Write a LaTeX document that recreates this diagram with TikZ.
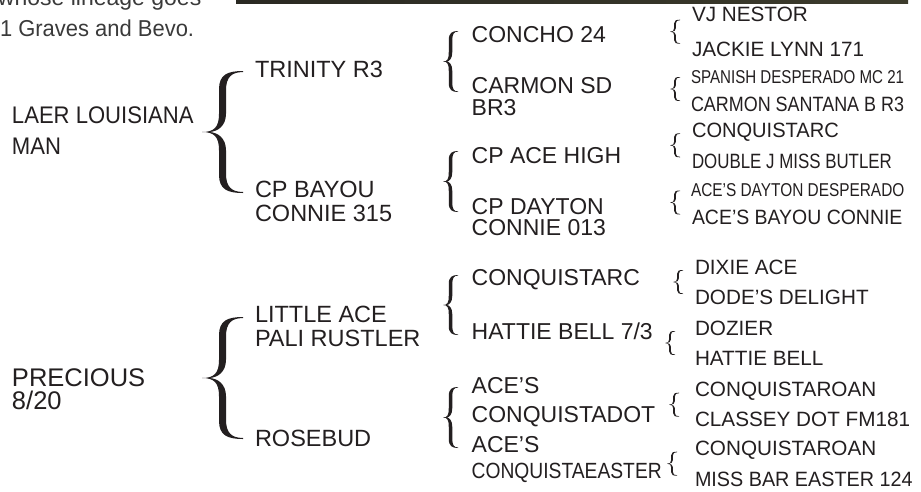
\documentclass[tikz,border=0pt]{standalone}
\usepackage{fontspec}
\setmainfont{Liberation Sans}
\usepackage{graphicx}
\definecolor{ink}{HTML}{231F20}
\definecolor{captxt}{HTML}{3A3A3A}
\definecolor{stripA}{HTML}{2A2922}
\definecolor{stripB}{HTML}{3C3B2C}

\newcommand\fTop{\fontsize{23}{27}\selectfont}
\newcommand\fOne{\fontsize{24}{28}\selectfont}
\newcommand\fPre{\fontsize{25.5}{30}\selectfont}
\newcommand\fTwo{\fontsize{23.5}{27}\selectfont}
\newcommand\fThr{\fontsize{23}{27}\selectfont}
\newcommand\fThs{\fontsize{22}{26}\selectfont}
\newcommand\fFou{\fontsize{20.7}{24}\selectfont}
\newcommand\fFos{\fontsize{18.6}{22}\selectfont}
\newcommand\cnd[2]{\scalebox{#1}[1]{#2}}

% calligraphic left brace: tip x, top y, bottom y, width, stem thickness
\newcommand\tbrace[5]{%
 \pgfmathsetmacro\brX{#1}\pgfmathsetmacro\brT{#2}\pgfmathsetmacro\brB{#3}%
 \pgfmathsetmacro\brW{#4}\pgfmathsetmacro\brK{#5}%
 \pgfmathsetmacro\brM{(\brT+\brB)/2}\pgfmathsetmacro\brH{(\brB-\brT)/2}%
 \pgfmathsetmacro\brL{\brX+0.5*\brW-\brK/2}\pgfmathsetmacro\brR{\brX+0.5*\brW+\brK/2}%
 \pgfmathsetmacro\brN{\brX+1.1*\brK}%
 \pgfmathsetmacro\brE{max(0.5,0.15*\brK)}%
 \fill[ink] ({\brX+\brW},{\brT})
   .. controls ({\brX+0.62*\brW},{\brT}) and ({\brL},{\brT+0.06*\brH}) .. ({\brL},{\brT+0.3*\brH})
   -- ({\brL},{\brM-0.3*\brH})
   .. controls ({\brL},{\brM-0.08*\brH}) and ({\brX+0.3*\brW},{\brM}) .. ({\brX},{\brM})
   .. controls ({\brX+0.3*\brW},{\brM}) and ({\brL},{\brM+0.08*\brH}) .. ({\brL},{\brM+0.3*\brH})
   -- ({\brL},{\brB-0.3*\brH})
   .. controls ({\brL},{\brB-0.06*\brH}) and ({\brX+0.62*\brW},{\brB}) .. ({\brX+\brW},{\brB})
   -- ({\brX+\brW},{\brB-\brE})
   .. controls ({\brX+0.72*\brW},{\brB-\brE}) and ({\brR},{\brB-0.1*\brH}) .. ({\brR},{\brB-0.32*\brH})
   -- ({\brR},{\brM+0.3*\brH})
   .. controls ({\brR},{\brM+0.1*\brH}) and ({(\brN+\brR)/2},{\brM+0.01*\brH}) .. ({\brN},{\brM})
   .. controls ({(\brN+\brR)/2},{\brM-0.01*\brH}) and ({\brR},{\brM-0.1*\brH}) .. ({\brR},{\brM-0.3*\brH})
   -- ({\brR},{\brT+0.32*\brH})
   .. controls ({\brR},{\brT+0.1*\brH}) and ({\brX+0.72*\brW},{\brT+\brE}) .. ({\brX+\brW},{\brT+\brE})
   -- cycle;}

\tikzset{lbl/.style={anchor=base west, inner sep=0pt, outer sep=0pt, text=ink}}

\begin{document}
\begin{tikzpicture}[x=1pt,y=-1pt]
\useasboundingbox (0,0) rectangle (921,491);
\clip (0,0) rectangle (921,491);
\fill[white] (0,0) rectangle (921,491);

% top photo strip
\shade[left color=stripA, right color=stripB] (236,0) rectangle (908,3.5);

% cut caption text
\node[lbl, text=captxt, font=\fTop] (capA) at (-2,5.5) {whose lineage goes};
\node[lbl, text=captxt, font=\fTop] (capB) at (0,36) {\cnd{0.955}{1 Graves and Bevo.}};

% column 1
\node[lbl,font=\fOne] (laerA) at (12,123.3) {\cnd{0.92}{LAER LOUISIANA}};
\node[lbl,font=\fOne] (laerB) at (12,154.3) {\cnd{0.92}{MAN}};
\node[lbl,font=\fPre] (precA) at (12,386) {PRECIOUS};
\node[lbl,font=\fPre] (precB) at (12,409) {8/20};

% column 2
\node[lbl,font=\fTwo] (trin) at (255,77.7) {TRINITY R3};
\node[lbl,font=\fTwo] (bayA) at (255,197.7) {CP BAYOU};
\node[lbl,font=\fTwo] (bayB) at (255,221.7) {CONNIE 315};
\node[lbl,font=\fTwo] (litA) at (255,322.3) {LITTLE ACE};
\node[lbl,font=\fTwo] (litB) at (255,346) {PALI RUSTLER};
\node[lbl,font=\fTwo] (rose) at (255,446.7) {ROSEBUD};

% column 3
\node[lbl,font=\fThr] (conc) at (471.7,42.7) {CONCHO 24};
\node[lbl,font=\fThr] (carA) at (471.7,93.5) {CARMON SD};
\node[lbl,font=\fThr] (carB) at (471.7,115) {BR3};
\node[lbl,font=\fThr] (cpah) at (471.7,163.3) {CP ACE HIGH};
\node[lbl,font=\fThr] (dayA) at (471.7,214) {CP DAYTON};
\node[lbl,font=\fThr] (dayB) at (471.7,235.5) {CONNIE 013};
\node[lbl,font=\fThr] (cqrc) at (471.7,285) {CONQUISTARC};
\node[lbl,font=\fThr] (hatt) at (471.7,339.3) {HATTIE BELL 7/3};
\node[lbl,font=\fThr] (dotA) at (471.7,393) {ACE’S};
\node[lbl,font=\fThr] (dotB) at (471.7,422) {CONQUISTADOT};
\node[lbl,font=\fThr] (easA) at (471.7,452) {ACE’S};
\node[lbl,font=\fThs] (easB) at (471.7,478.5) {\cnd{0.875}{CONQUISTAEASTER}};

% column 4
\node[lbl,font=\fFou] (g1) at (692,21.7) {VJ NESTOR};
\node[lbl,font=\fFou] (g2) at (692,56.7) {JACKIE LYNN 171};
\node[lbl,font=\fFos] (g3) at (691,83.3) {\cnd{0.813}{SPANISH DESPERADO MC 21}};
\node[lbl,font=\fFou] (g4) at (691,111.7) {\cnd{0.867}{CARMON SANTANA B R3}};
\node[lbl,font=\fFou] (g5) at (692,137.3) {\cnd{0.97}{CONQUISTARC}};
\node[lbl,font=\fFou] (g6) at (692,168.3) {\cnd{0.816}{DOUBLE J MISS BUTLER}};
\node[lbl,font=\fFos] (g7) at (691,196) {\cnd{0.828}{ACE’S DAYTON DESPERADO}};
\node[lbl,font=\fFou] (g8) at (692,224) {\cnd{0.94}{ACE’S BAYOU CONNIE}};
\node[lbl,font=\fFou] (g9) at (695,274.3) {DIXIE ACE};
\node[lbl,font=\fFou] (g10) at (695,304) {DODE’S DELIGHT};
\node[lbl,font=\fFou] (g11) at (695,335) {DOZIER};
\node[lbl,font=\fFou] (g12) at (695,365.7) {HATTIE BELL};
\node[lbl,font=\fFou] (g13) at (695,396.7) {CONQUISTAROAN};
\node[lbl,font=\fFou] (g14) at (695,426.7) {CLASSEY DOT FM181};
\node[lbl,font=\fFou] (g15) at (695,455.7) {CONQUISTAROAN};
\node[lbl,font=\fFou] (g16) at (695,486) {\cnd{0.955}{MISS BAR EASTER 124}};

% braces, column 1 -> 2
\tbrace{202}{71}{193}{41}{7}
\tbrace{202}{317}{439}{41}{7}
% column 2 -> 3
\tbrace{443}{31}{92}{15}{3.5}
\tbrace{443}{151}{212}{15}{3.5}
\tbrace{443}{275}{335}{15}{3.5}
\tbrace{443}{387}{448}{15}{3.5}
% column 3 -> 4
\tbrace{670}{19.7}{43.7}{10}{1.8}
\tbrace{670}{77}{101}{10}{1.8}
\tbrace{670}{133.3}{157.3}{10}{1.8}
\tbrace{670}{190.5}{214.5}{10}{1.8}
\tbrace{673}{270}{294}{10}{1.8}
\tbrace{665}{331}{355}{10}{1.8}
\tbrace{669}{392.7}{416.7}{10}{1.8}
\tbrace{667}{451.7}{475.7}{10}{1.8}
\end{tikzpicture}
\end{document}
